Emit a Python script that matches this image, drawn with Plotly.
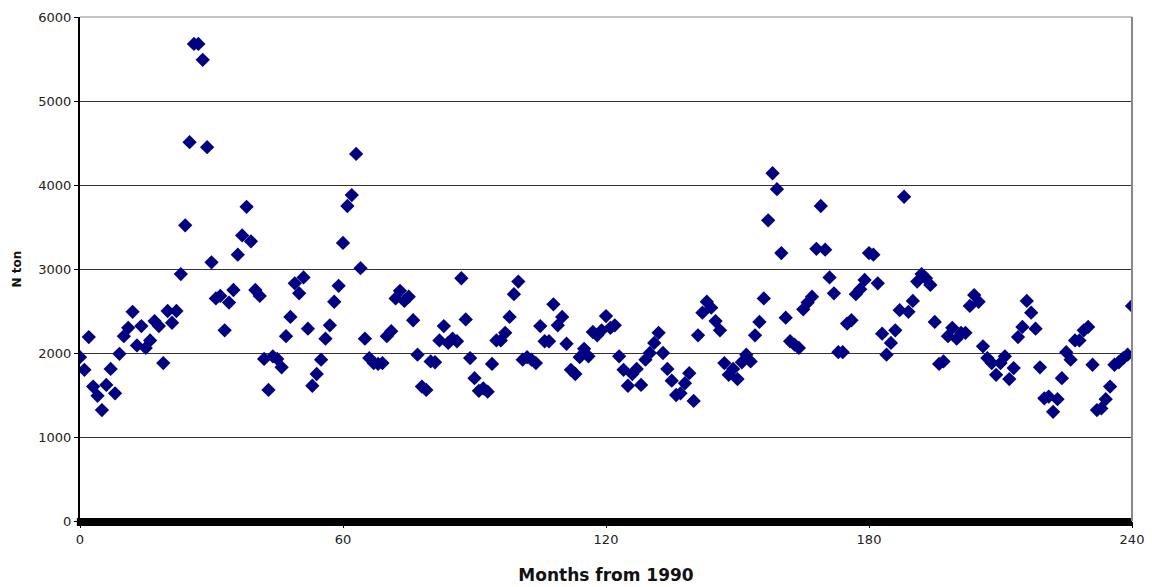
import plotly.graph_objects as go

months = list(range(0, 241))
n_ton = [
    1950, 1800, 2190, 1600, 1490, 1320, 1620, 1810, 1520, 1990,
    2200, 2300, 2490, 2090, 2320, 2060, 2150, 2380, 2320, 1880,
    2500, 2360, 2500, 2940, 3520, 4510, 5680, 5680, 5490, 4450,
    3080, 2650, 2680, 2270, 2600, 2750, 3170, 3400, 3740, 3330,
    2750, 2680, 1930, 1560, 1960, 1930, 1830, 2200, 2430, 2830,
    2710, 2900, 2290, 1610, 1750, 1920, 2170, 2330, 2610, 2800,
    3310, 3750, 3880, 4370, 3010, 2170, 1940, 1880, 1870, 1880,
    2200, 2260, 2650, 2740, 2620, 2670, 2390, 1980, 1600, 1560,
    1900, 1890, 2150, 2320, 2120, 2170, 2140, 2890, 2400, 1940,
    1700, 1550, 1580, 1540, 1870, 2150, 2150, 2240, 2430, 2700,
    2850, 1920, 1950, 1920, 1880, 2320, 2140, 2140, 2580, 2330,
    2430, 2110, 1800, 1750, 1950, 2050, 1960, 2250, 2210, 2270,
    2440, 2300, 2330, 1960, 1800, 1610, 1750, 1810, 1620, 1920,
    2000, 2120, 2240, 2000, 1810, 1670, 1500, 1520, 1640, 1760,
    1430, 2210, 2480, 2610, 2540, 2380, 2270, 1880, 1740, 1810,
    1690, 1890, 1980, 1900, 2210, 2370, 2650, 3580, 4140, 3950,
    3190, 2420, 2140, 2100, 2060, 2520, 2600, 2670, 3240, 3750,
    3230, 2900, 2710, 2010, 2010, 2350, 2390, 2700, 2760, 2870,
    3190, 3170, 2830, 2230, 1980, 2120, 2270, 2510, 3860, 2490,
    2620, 2850, 2940, 2890, 2810, 2370, 1870, 1900, 2200, 2300,
    2170, 2240, 2240, 2560, 2690, 2610, 2080, 1940, 1880, 1740,
    1880, 1960, 1690, 1820, 2190, 2310, 2620, 2480, 2290, 1830,
    1460, 1480, 1300, 1450, 1700, 2010, 1920, 2150, 2150, 2270,
    2310, 1860, 1320, 1340, 1450, 1600, 1860, 1890, 1940, 1980,
    2560,
]
x_ticks = [0, 60, 120, 180, 240]
y_ticks = [0, 1000, 2000, 3000, 4000, 5000, 6000]

fig = go.Figure()
fig.add_trace(go.Scatter(
    x=months, y=n_ton, mode="markers",
    marker=dict(symbol="diamond", size=11, color="#000080",
                line=dict(width=0)),
    showlegend=False,
))

font = "DejaVu Sans, Verdana, sans-serif"
fig.update_layout(
    width=1152, height=587,
    margin=dict(l=80, r=20, t=17, b=66),
    paper_bgcolor="white", plot_bgcolor="white",
    font=dict(family=font, size=13, color="#222"),
    xaxis=dict(
        range=[0, 240], tickvals=x_ticks, ticktext=[str(v) for v in x_ticks],
        showgrid=False, zeroline=False, showline=False, automargin=False,
        ticks="outside", ticklen=6, tickcolor="black",
        title=dict(text="<b>Months from 1990</b>", font=dict(size=17, color="#111"),
                   standoff=23),
        tickfont=dict(size=13, color="#222"),
    ),
    yaxis=dict(
        range=[0, 6000], tickvals=y_ticks, ticktext=[str(v) for v in y_ticks],
        showgrid=True, gridcolor="#333", gridwidth=1, automargin=False,
        zeroline=False, showline=True, linecolor="black", linewidth=2,
        ticks="outside", ticklen=4, tickcolor="black",
        title=dict(text="<b>N ton</b>", font=dict(size=12, color="#111"),
                   standoff=14),
        tickfont=dict(size=13, color="#222"),
    ),
    shapes=[
        dict(type="rect", xref="paper", yref="paper", x0=-0.003, x1=1.0,
             ysizemode="pixel", yanchor=0, y0=-5, y1=3,
             fillcolor="black", line=dict(width=0), layer="above"),
        dict(type="line", xref="paper", yref="paper", x0=1, x1=1, y0=0, y1=1,
             line=dict(color="#888", width=2)),
        dict(type="line", xref="paper", yref="paper", x0=0, x1=1, y0=1, y1=1,
             line=dict(color="#888", width=1)),
    ],
)

fig.write_html("out.html")
